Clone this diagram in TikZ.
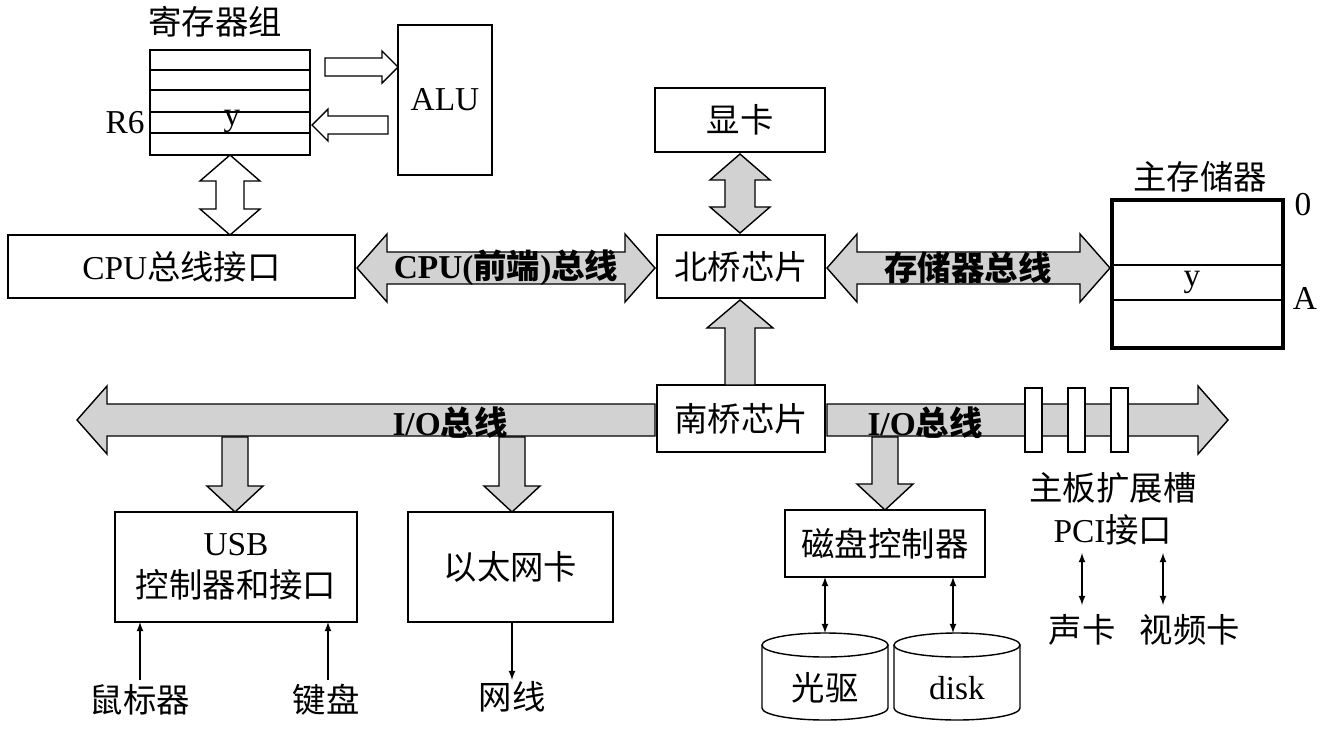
\documentclass[tikz,border=0pt]{standalone}
\usepackage{fontspec}
\setmainfont{Liberation Serif}
\newfontfamily\cjk{Noto Sans CJK SC}
\begin{document}
\begin{tikzpicture}[x=0.02cm,y=-0.02cm,
  box/.style={draw,thick,inner sep=0pt},
  lab/.style={font=\fontsize{19}{22}\selectfont,align=center},
  blab/.style={font=\bfseries\fontsize{19}{22}\selectfont},
  gar/.style={fill=gray!35,draw,thick},
  war/.style={fill=white,draw,thick},
  sar/.style={->,>=latex,thick},
  dar/.style={<->,>=latex,thick}]
\useasboundingbox (0,0) rectangle (1335,734);
\newcommand\hda[7]{\path[#7] (#1,#3) -- ({#1+#6},{#3-#5}) -- ({#1+#6},{#3-#4}) -- ({#2-#6},{#3-#4}) -- ({#2-#6},{#3-#5}) -- (#2,#3) -- ({#2-#6},{#3+#5}) -- ({#2-#6},{#3+#4}) -- ({#1+#6},{#3+#4}) -- ({#1+#6},{#3+#5}) -- cycle;}
\newcommand\vda[7]{\path[#7] (#3,#1) -- ({#3-#5},{#1+#6}) -- ({#3-#4},{#1+#6}) -- ({#3-#4},{#2-#6}) -- ({#3-#5},{#2-#6}) -- (#3,#2) -- ({#3+#5},{#2-#6}) -- ({#3+#4},{#2-#6}) -- ({#3+#4},{#1+#6}) -- ({#3+#5},{#1+#6}) -- cycle;}
% single arrows: from #1 (flat) to #2 (tip); #6 signed head length
\newcommand\hsa[7]{\path[#7] (#1,{#3-#4}) -- ({#2-(#6)},{#3-#4}) -- ({#2-(#6)},{#3-#5}) -- (#2,#3) -- ({#2-(#6)},{#3+#5}) -- ({#2-(#6)},{#3+#4}) -- (#1,{#3+#4}) -- cycle;}
\newcommand\vsa[7]{\path[#7] ({#3-#4},#1) -- ({#3-#4},{#2-(#6)}) -- ({#3-#5},{#2-(#6)}) -- (#3,#2) -- ({#3+#5},{#2-(#6)}) -- ({#3+#4},{#2-(#6)}) -- ({#3+#4},#1) -- cycle;}

% register file
\node[lab] (regt) at (215,22) {\cjk 寄存器组};
\draw[thick] (150,50) rectangle (310,155);
\foreach \yy in {70,90,112,133} \draw[thick] (150,\yy) -- (310,\yy);
\node[lab] (r6) at (125,123) {R6};
\node[lab] (ry) at (232,121) {y};
\node[box,lab,minimum width=94*0.02cm,minimum height=150*0.02cm] (alu) at (445,100) {ALU};
\hsa{325}{398}{67}{9}{16}{16}{war}
\hsa{388}{312}{125}{9}{16}{-16}{war}
\vda{155}{235}{230}{14}{30}{26}{war}

\node[box,lab,minimum width=347*0.02cm,minimum height=63*0.02cm] (cpui) at (181.5,266.5) {CPU{\cjk 总线接口}};
\node[box,lab,minimum width=168*0.02cm,minimum height=63*0.02cm] (nb) at (741,266.5) {\cjk 北桥芯片};
\node[box,lab,minimum width=170*0.02cm,minimum height=64*0.02cm] (gpu) at (740,120) {\cjk 显卡};
\node[box,lab,minimum width=168*0.02cm,minimum height=67*0.02cm] (sb) at (741,418.5) {\cjk 南桥芯片};
\hda{357}{655}{268}{16}{34}{30}{gar}
\node[blab] at (506,268) {CPU({\cjk 前端})\cjk 总线};
\hda{827}{1110}{268}{16}{34}{30}{gar}
\node[blab] at (968,268) {\cjk 存储器总线};
\vda{154}{233}{740}{15}{30}{26}{gar}
\vsa{385}{300}{740}{15}{33}{-28}{gar}

% main memory
\node[lab] at (1200,177) {\cjk 主存储器};
\draw[line width=2pt] (1112,200) rectangle (1283,348);
\draw[thick] (1112,265) -- (1283,265) (1112,300) -- (1283,300);
\node[lab] at (1192,282) {y};
\node[lab] at (1303,205) {0};
\node[lab] at (1305,298) {A};

% I/O bus
\hsa{655}{77}{420}{16}{34}{-30}{gar}
\hsa{827}{1228}{420}{16}{34}{30}{gar}
\node[blab] at (450,423) {I/O\cjk 总线};
\node[blab] at (925,423) {I/O\cjk 总线};
\foreach \xa in {1025,1068,1111} \draw[thick,fill=white] (\xa,388) rectangle ({\xa+17},452);
\node[lab] at (1113,488) {\cjk 主板扩展槽};
\node[lab] at (1113,530) {PCI{\cjk 接口}};

\vsa{437}{512}{235}{13}{28}{26}{gar}
\vsa{437}{512}{512}{13}{28}{26}{gar}
\vsa{437}{510}{885}{13}{28}{26}{gar}

\node[box,lab,minimum width=242*0.02cm,minimum height=110*0.02cm] (usb) at (236,567) {USB\\[2pt]{\cjk 控制器和接口}};
\node[box,lab,minimum width=205*0.02cm,minimum height=110*0.02cm] (eth) at (510.5,567) {\cjk 以太网卡};
\node[box,lab,minimum width=200*0.02cm,minimum height=67*0.02cm] (dc) at (885,543.5) {\cjk 磁盘控制器};

\node[lab] (mouse) at (140,700) {\cjk 鼠标器};
\node[lab] (kb) at (326,700) {\cjk 键盘};
\node[lab] (net) at (512,697) {\cjk 网线};
\coordinate (m1) at (140,680); \coordinate (m2) at (140,622);
\coordinate (k1) at (328,680); \coordinate (k2) at (328,622);
\coordinate (n1) at (512,622); \coordinate (n2) at (512,680);
\draw[sar] (m1) -- (m2);
\draw[sar] (k1) -- (k2);
\draw[sar] (n1) -- (n2);

% disks
\foreach \cx/\t/\nm in {825/{\cjk 光驱}/cd,957/disk/hd}{
  \draw[thick,fill=white] ({\cx-63},645) -- ({\cx-63},708) arc[start angle=180,end angle=0,x radius=63,y radius=12] -- ({\cx+63},645);
  \draw[thick,fill=white] (\cx,645) ellipse[x radius=63,y radius=12];
  \node[lab] (\nm) at (\cx,688) {\t};
}
\coordinate (d1) at (825,577); \coordinate (d2) at (825,633);
\coordinate (e1) at (953,577); \coordinate (e2) at (953,633);
\draw[dar] (d1) -- (d2);
\draw[dar] (e1) -- (e2);

\node[lab] (snd) at (1082,630) {\cjk 声卡};
\node[lab] (vid) at (1190,630) {\cjk 视频卡};
\coordinate (p1) at (1082,553); \coordinate (p2) at (1082,605);
\coordinate (q1) at (1163,553); \coordinate (q2) at (1163,605);
\draw[dar] (p1) -- (p2);
\draw[dar] (q1) -- (q2);
\end{tikzpicture}
\end{document}
